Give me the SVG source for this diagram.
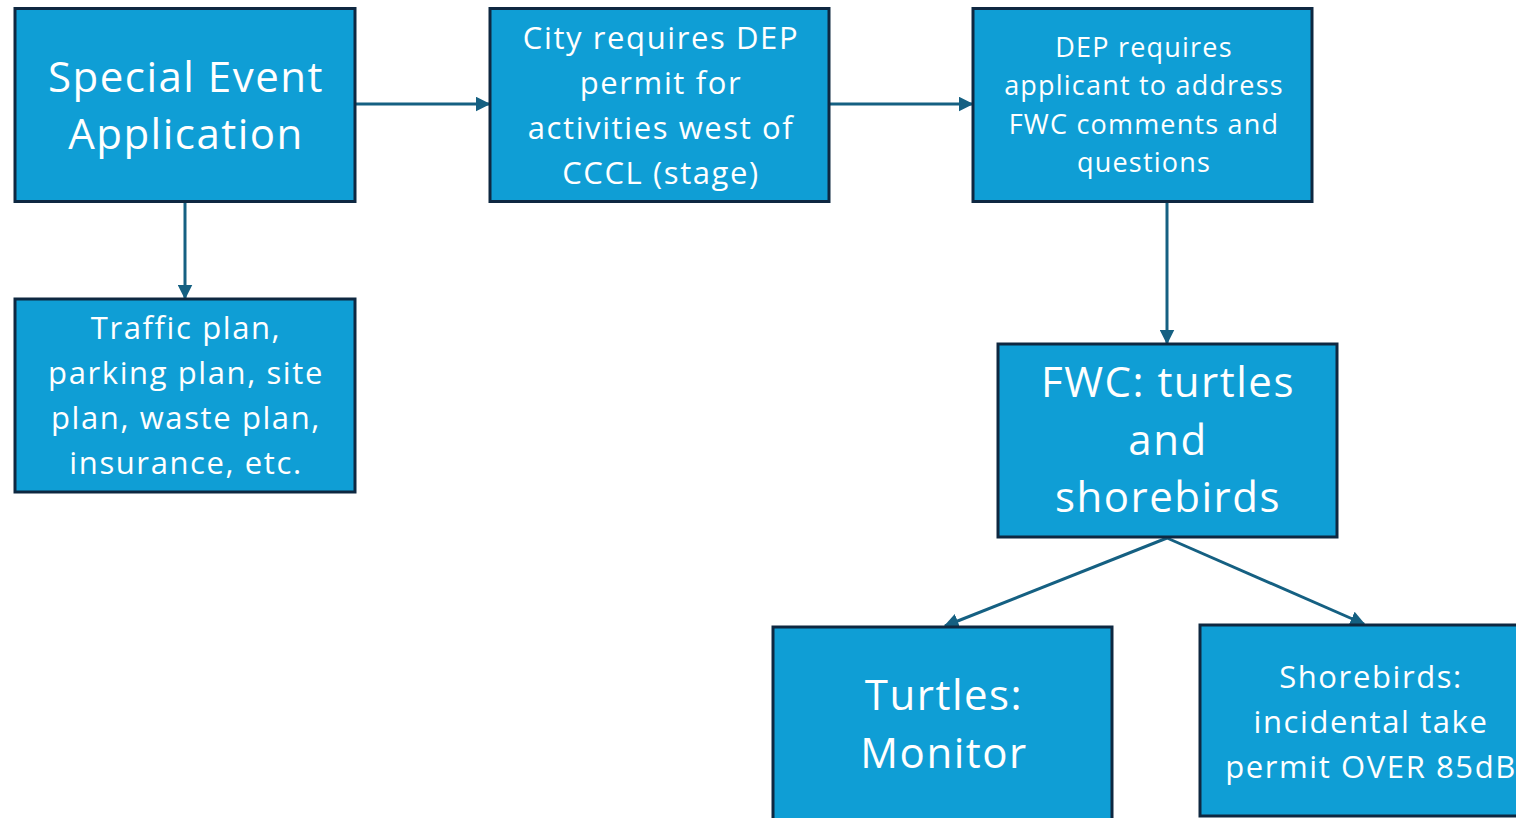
<svg xmlns="http://www.w3.org/2000/svg" width="1516" height="818" viewBox="0 0 1516 818">
<style>
.box{fill:#0F9ED5;stroke:#0E2841;stroke-width:3}
.t{fill:#FFFFFF;font-family:"Open Sans","Noto Sans",sans-serif;text-anchor:middle}
.xl{font-size:42px;letter-spacing:1.5px}
.m{font-size:31px;letter-spacing:1.6px}
.s{font-size:27px;letter-spacing:1.2px}
.c{stroke:#156082;stroke-width:3;fill:none;marker-end:url(#ah)}
</style>
<defs>
<marker id="ah" markerWidth="5" markerHeight="5" refX="4.5" refY="2.5" orient="auto" markerUnits="strokeWidth">
<path d="M0,0 L5,2.5 L0,5 Z" fill="#156082"/>
</marker>
</defs>
<g id="connectors">
<line class="c" x1="356" y1="104" x2="489" y2="104"/>
<line class="c" x1="830" y1="104" x2="972" y2="104"/>
<line class="c" x1="185" y1="203" x2="185" y2="298"/>
<line class="c" x1="1167" y1="203" x2="1167" y2="343"/>
<line class="c" x1="1167" y1="538" x2="945" y2="626"/>
<line class="c" x1="1167" y1="538" x2="1364" y2="624"/>
</g>
<g id="n1">
<rect class="box" x="15" y="8.5" width="340" height="193"/>
<text class="t xl" x="186" y="92">Special Event</text>
<text class="t xl" x="186" y="149">Application</text>
</g>
<g id="n2">
<rect class="box" x="490" y="8.5" width="339" height="193"/>
<text class="t m" x="661" y="49">City requires DEP</text>
<text class="t m" x="661" y="94">permit for</text>
<text class="t m" x="661" y="139">activities west of</text>
<text class="t m" x="661" y="184">CCCL (stage)</text>
</g>
<g id="n3">
<rect class="box" x="973" y="8.5" width="339" height="193"/>
<text class="t s" x="1144" y="57">DEP requires</text>
<text class="t s" x="1144" y="95">applicant to address</text>
<text class="t s" x="1144" y="134">FWC comments and</text>
<text class="t s" x="1144" y="172">questions</text>
</g>
<g id="n4">
<rect class="box" x="15" y="299" width="340" height="193"/>
<text class="t m" x="186" y="339">Traffic plan,</text>
<text class="t m" x="186" y="384">parking plan, site</text>
<text class="t m" x="186" y="429">plan, waste plan,</text>
<text class="t m" x="186" y="474">insurance, etc.</text>
</g>
<g id="n5">
<rect class="box" x="998" y="344" width="339" height="193"/>
<text class="t xl" x="1168" y="397">FWC: turtles</text>
<text class="t xl" x="1168" y="455">and</text>
<text class="t xl" x="1168" y="512">shorebirds</text>
</g>
<g id="n6">
<rect class="box" x="773" y="627" width="339" height="193"/>
<text class="t xl" x="944" y="710">Turtles:</text>
<text class="t xl" x="944" y="768">Monitor</text>
</g>
<g id="n7">
<rect class="box" x="1200" y="625" width="340" height="191"/>
<text class="t m" x="1371" y="688">Shorebirds:</text>
<text class="t m" x="1371" y="733">incidental take</text>
<text class="t m" x="1371" y="778">permit OVER 85dB</text>
</g>
</svg>
